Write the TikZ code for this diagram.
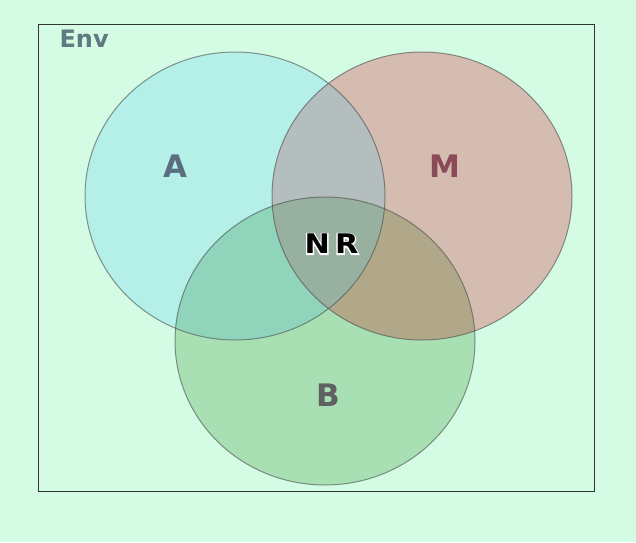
\documentclass[tikz,border=0pt]{standalone}
\usepackage{fontspec}
\setmainfont{DejaVu Sans}
\newfontfamily\nrfont[FakeStretch=1.12]{DejaVu Sans}
\definecolor{bgc}{RGB}{212,252,228}
\definecolor{ra}{RGB}{180,240,232}
\definecolor{rm}{RGB}{212,188,176}
\definecolor{rb}{RGB}{168,224,180}
\definecolor{ram}{RGB}{180,190,190}
\definecolor{rmb}{RGB}{176,168,136}
\definecolor{rab}{RGB}{144,212,188}
\definecolor{ramb}{RGB}{152,176,160}
\definecolor{tenv}{RGB}{95,122,128}
\definecolor{ta}{RGB}{90,110,128}
\definecolor{tm}{RGB}{138,74,88}
\definecolor{tb}{RGB}{96,96,96}
\newcommand{\cA}{(235,196) ellipse [x radius=150,y radius=144]}
\newcommand{\cM}{(422,196) ellipse [x radius=150,y radius=144]}
\newcommand{\cB}{(325,341) ellipse [x radius=150,y radius=144]}
\newcommand{\halotext}[1]{\rlap{\special{pdf:code 1 Tr 2.6 w 1 G}#1\special{pdf:code 0 Tr}}#1}
\begin{document}
\begin{tikzpicture}[x=1pt,y=-1pt,
  rim/.style={draw=black!70,draw opacity=0.6,line width=1pt},
  lbl/.style={font=\bfseries\fontsize{31}{31}\selectfont},
  nrf/.style={font=\nrfont\bfseries\fontsize{27}{27}\selectfont}]
\fill[bgc] (0,0) rectangle (636,542);
\useasboundingbox (0,0) rectangle (636,542);
\node[draw=black!80,line width=1.2pt,minimum width=556pt,minimum height=467pt,inner sep=0pt,anchor=north west] (env) at (38,24) {};
\node[font=\bfseries\fontsize{24}{24}\selectfont,text=tenv,anchor=west] (envl) at (56,39) {Env};
\fill[ra] \cA;
\fill[rm] \cM;
\fill[rb] \cB;
\begin{scope}\clip \cA; \fill[ram] \cM; \fill[rab] \cB; \end{scope}
\begin{scope}\clip \cM; \fill[rmb] \cB; \end{scope}
\begin{scope}\clip \cA; \clip \cM; \fill[ramb] \cB; \end{scope}
\draw[rim] \cA;
\draw[rim] \cM;
\draw[rim] \cB;
\node[lbl,text=ta] (a) at (175,166) {A};
\node[lbl,text=tm] (m) at (445,166) {M};
\node[lbl,text=tb] (b) at (328,395) {B};
\node[nrf,text=black] (nr) at (331.5,244) {\halotext{N\kern5pt R}};
\end{tikzpicture}
\end{document}
